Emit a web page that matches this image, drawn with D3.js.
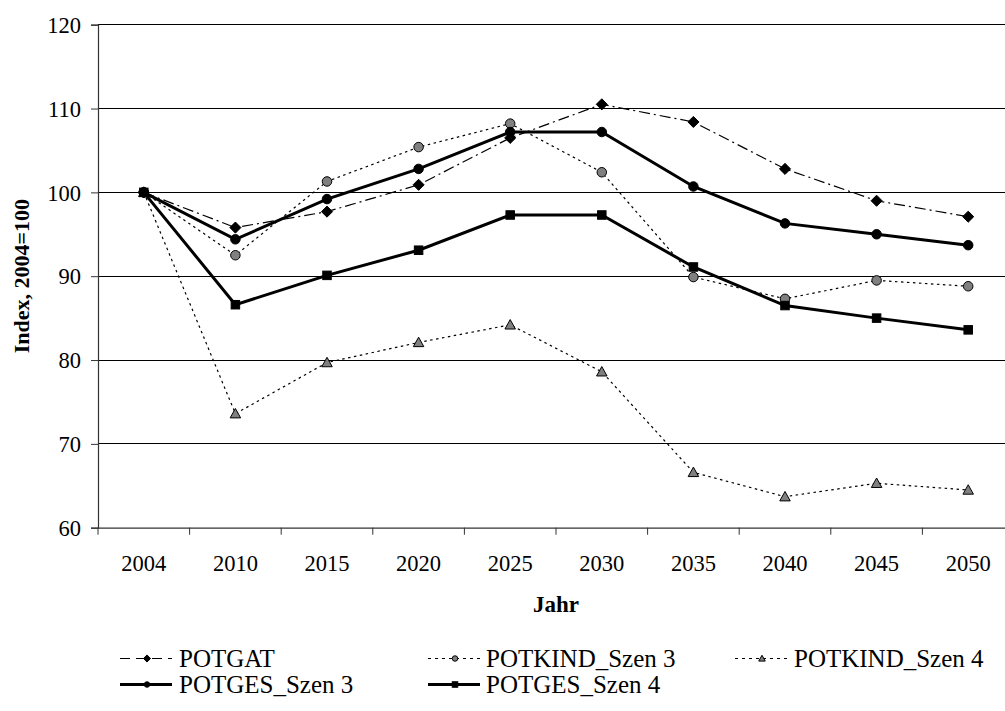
<!DOCTYPE html>
<html>
<head>
<meta charset="utf-8">
<script src="https://cdn.jsdelivr.net/npm/d3@7"></script>
<style>
  html, body { margin: 0; padding: 0; background: #fff; }
  svg { display: block; }
  text { font-family: "Liberation Serif", "Times New Roman", serif; fill: #000; }
</style>
</head>
<body>
<svg id="chart" width="1005" height="711"></svg>
<script>
const years = ["2004","2010","2015","2020","2025","2030","2035","2040","2045","2050"];
const yTicks = [60, 70, 80, 90, 100, 110, 120];

const potgat       = [100, 95.8, 97.7, 100.9, 106.5, 110.5, 108.4, 102.8, 99.0, 97.1];
const potkindSzen3 = [100, 92.5, 101.3, 105.4, 108.2, 102.4, 89.9, 87.3, 89.5, 88.8];
const potkindSzen4 = [100, 73.6, 79.7, 82.1, 84.2, 78.6, 66.6, 63.7, 65.3, 64.5];
const potgesSzen3  = [100, 94.4, 99.2, 102.8, 107.2, 107.2, 100.7, 96.3, 95.0, 93.7];
const potgesSzen4  = [100, 86.6, 90.1, 93.1, 97.3, 97.3, 91.1, 86.5, 85.0, 83.6];

const seriesNames = ["POTGAT", "POTKIND_Szen 3", "POTKIND_Szen 4", "POTGES_Szen 3", "POTGES_Szen 4"];

const series = [
  { name: seriesNames[0], values: potgat,       dash: "11,4,2,4", width: 1.2, marker: "diamond",  fill: "#000" },
  { name: seriesNames[1], values: potkindSzen3, dash: "2.5,3.5",  width: 1.2, marker: "circle",   fill: "#808080" },
  { name: seriesNames[2], values: potkindSzen4, dash: "2.5,3.5",  width: 1.2, marker: "triangle", fill: "#808080" },
  { name: seriesNames[3], values: potgesSzen3,  dash: null,       width: 3,   marker: "circle",   fill: "#000" },
  { name: seriesNames[4], values: potgesSzen4,  dash: null,       width: 3,   marker: "square",   fill: "#000" }
];

const svg = d3.select("#chart");
svg.append("rect").attr("width", 1005).attr("height", 711).attr("fill", "#fff");

const pLeft = 98, pRight = 1014, pTop = 24.7, pBottom = 527.7;

const x = d3.scaleBand().domain(years).range([pLeft, pRight]).padding(0);
const y = d3.scaleLinear().domain([60, 120]).range([pBottom, pTop]);

// gridlines
svg.append("g").selectAll("line").data(yTicks.filter(d => d > 60)).join("line")
  .attr("x1", pLeft).attr("x2", pRight)
  .attr("y1", d => y(d)).attr("y2", d => y(d))
  .attr("stroke", "#000").attr("stroke-width", 1).attr("shape-rendering", "crispEdges");

// y axis
const yAxis = d3.axisLeft(y).tickValues(yTicks).tickSize(7).tickPadding(10).tickFormat(d3.format("d"));
const gy = svg.append("g").attr("transform", `translate(${pLeft},0)`).call(yAxis);
gy.attr("font-family", null);
gy.select(".domain").attr("stroke", "#333").attr("stroke-width", 1.2);
gy.selectAll(".tick line").attr("stroke", "#333");
gy.selectAll(".tick text").attr("font-size", 22.5).attr("dy", "0.34em");

// x axis
const xAxis = d3.axisBottom(x).tickSize(0).tickPadding(27);
const gx = svg.append("g").attr("transform", `translate(0,${pBottom})`).call(xAxis);
gx.attr("font-family", null);
gx.select(".domain").attr("stroke", "#333").attr("stroke-width", 1.2);
gx.selectAll(".tick text").attr("font-size", 22.5);
// tick marks between categories
const boundaries = years.map(d => x(d)).concat([x(years[years.length-1]) + x.bandwidth()]);
svg.append("g").selectAll("line").data(boundaries).join("line")
  .attr("x1", d => d).attr("x2", d => d)
  .attr("y1", pBottom).attr("y2", pBottom + 7)
  .attr("stroke", "#333").attr("stroke-width", 1);

// axis titles
svg.append("text")
  .attr("transform", `translate(29,${(pTop + pBottom) / 2}) rotate(-90)`)
  .attr("text-anchor", "middle")
  .attr("font-size", 22).attr("font-weight", "bold")
  .text("Index, 2004=100");

svg.append("text")
  .attr("x", (pLeft + pRight) / 2).attr("y", 612)
  .attr("text-anchor", "middle")
  .attr("font-size", 23).attr("font-weight", "bold")
  .text("Jahr");

// marker drawing
function drawMarker(g, type, cx, cy, s, fill) {
  let el;
  if (type === "circle") {
    el = g.append("circle").attr("cx", cx).attr("cy", cy).attr("r", s / 2);
  } else if (type === "square") {
    el = g.append("rect").attr("x", cx - s / 2).attr("y", cy - s / 2).attr("width", s).attr("height", s);
  } else if (type === "diamond") {
    const h = s / 2 + 0.8;
    el = g.append("path").attr("d", `M${cx},${cy - h}L${cx + h},${cy}L${cx},${cy + h}L${cx - h},${cy}Z`);
  } else if (type === "triangle") {
    const h = s / 2 + 0.5;
    el = g.append("path").attr("d", `M${cx},${cy - h}L${cx + h},${cy + h * 0.8}L${cx - h},${cy + h * 0.8}Z`);
  }
  el.attr("fill", fill).attr("stroke", "#000").attr("stroke-width", 1);
}

const line = d3.line().x((d, i) => x(years[i]) + x.bandwidth() / 2).y(d => y(d));

series.forEach(s => {
  const g = svg.append("g");
  g.append("path").datum(s.values).attr("d", line)
    .attr("fill", "none").attr("stroke", "#000")
    .attr("stroke-width", s.width)
    .attr("stroke-dasharray", s.dash);
  s.values.forEach((v, i) => {
    drawMarker(g, s.marker, x(years[i]) + x.bandwidth() / 2, y(v), s.marker === "square" ? 8.5 : 9.5, s.fill);
  });
});

// legend
const legendItems = [
  { s: series[0], lx: 120, tx: 179, ly: 658.5 },
  { s: series[1], lx: 428, tx: 486, ly: 658.5 },
  { s: series[2], lx: 735, tx: 794, ly: 658.5 },
  { s: series[3], lx: 120, tx: 179, ly: 684.5 },
  { s: series[4], lx: 428, tx: 486, ly: 684.5 }
];
const lg = svg.append("g");
legendItems.forEach(it => {
  const g = lg.append("g");
  g.append("line").attr("x1", it.lx).attr("x2", it.lx + 52).attr("y1", it.ly).attr("y2", it.ly)
    .attr("stroke", "#000").attr("stroke-width", it.s.width)
    .attr("stroke-dasharray", it.s.dash ? (it.s.name === "POTGAT" ? "10,6" : "3,4") : null);
  drawMarker(g, it.s.marker, it.lx + 27, it.ly, 5.5, it.s.fill);
  g.append("text").attr("x", it.tx).attr("y", it.ly + 8.5)
    .attr("font-size", 25).text(it.s.name);
});
</script>
</body>
</html>
